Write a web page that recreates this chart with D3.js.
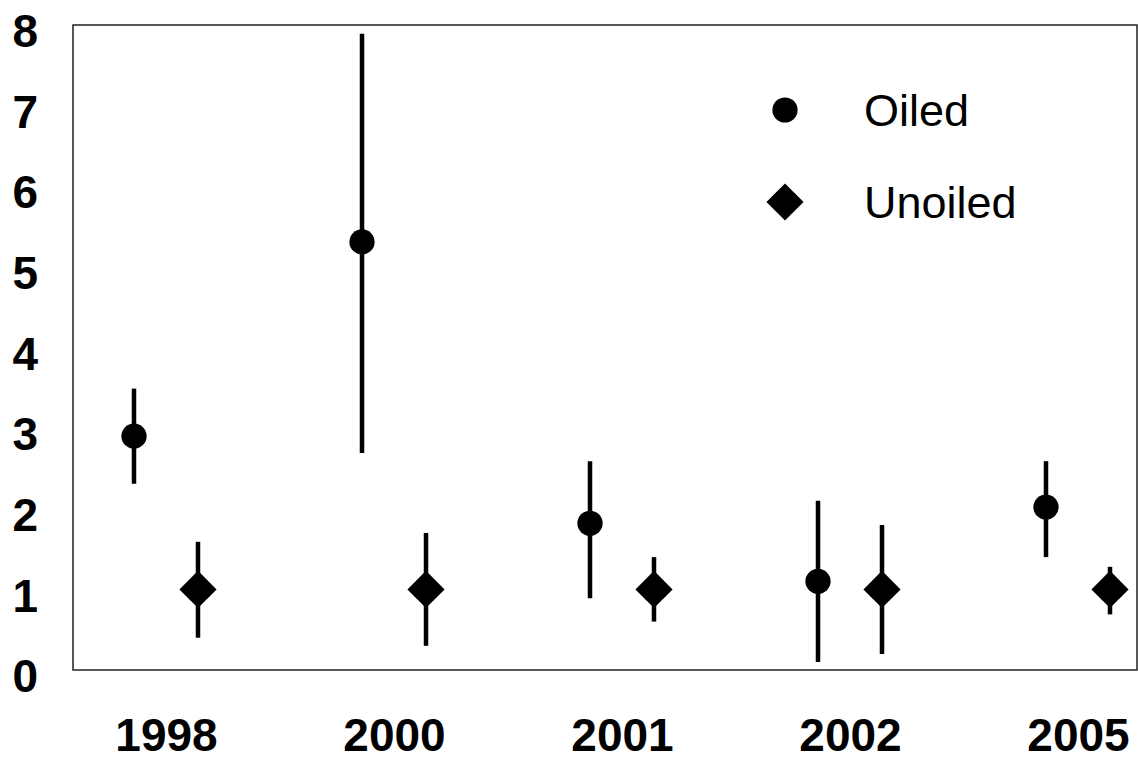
<!DOCTYPE html>
<html>
<head>
<meta charset="utf-8">
<script src="https://d3js.org/d3.v7.min.js"></script>
<style>
  body { margin: 0; background: #fff; }
  text { font-family: Arial, "Liberation Sans", sans-serif; }
</style>
</head>
<body>
<div id="vis"></div>
<script>
// years on the x axis
var years = ["1998", "2000", "2001", "2002", "2005"];

// Oiled sites: mean, lower and upper ends of the bars
var oiledMean = [2.90, 5.31, 1.82, 1.10, 2.02];
var oiledLow  = [2.31, 2.69, 0.89, 0.10, 1.40];
var oiledHigh = [3.49, 7.89, 2.59, 2.10, 2.59];

// Unoiled sites
var unoiledMean = [1.0, 1.0, 1.0, 1.0, 1.0];
var unoiledLow  = [0.40, 0.30, 0.60, 0.20, 0.69];
var unoiledHigh = [1.59, 1.70, 1.40, 1.80, 1.28];

var yTicks = [0, 1, 2, 3, 4, 5, 6, 7, 8];

var margin = {top: 25, right: 1, bottom: 91, left: 73},
    width = 1138 - margin.left - margin.right,
    height = 761 - margin.top - margin.bottom;

var svg = d3.select("#vis").append("svg")
    .attr("width", 1138)
    .attr("height", 761)
    .append("g")
    .attr("transform", "translate(" + margin.left + "," + margin.top + ")");

var x = d3.scalePoint()
    .domain(years)
    .range([93, 1005]);

var y = d3.scaleLinear()
    .domain([0, 8])
    .range([height, 0]);

var dodge = 32;

// plot frame
svg.append("rect")
    .attr("x", 0)
    .attr("y", 0)
    .attr("width", width)
    .attr("height", height)
    .style("fill", "none")
    .style("stroke", "#222")
    .style("stroke-width", 1.5);

var yAxis = d3.axisLeft(y).tickValues(yTicks).tickSize(0).tickPadding(35);
var gy = svg.append("g").call(yAxis);
gy.select(".domain").remove();
gy.selectAll("text")
    .attr("dy", "0.47em")
    .style("font", "bold 46px Arial, 'Liberation Sans', sans-serif")
    .style("fill", "#000");

// year labels sit low, near the bottom edge
var xAxis = d3.axisBottom(x).tickSize(0).tickPadding(48);
var gx = svg.append("g")
    .attr("transform", "translate(0," + height + ")")
    .call(xAxis);
gx.select(".domain").remove();
gx.selectAll("text")
    .style("font", "bold 46px Arial, 'Liberation Sans', sans-serif")
    .style("fill", "#000");

var series = [
    {name: "Oiled", mean: oiledMean, lo: oiledLow, hi: oiledHigh, shift: -dodge,
     symbol: d3.symbol(d3.symbolCircle, 500), rot: 0},
    {name: "Unoiled", mean: unoiledMean, lo: unoiledLow, hi: unoiledHigh, shift: dodge,
     symbol: d3.symbol(d3.symbolSquare, 690), rot: 45}
];

series.forEach(function(s) {
    var pts = years.map(function(yr, i) {
        return {year: yr, mean: s.mean[i], lo: s.lo[i], hi: s.hi[i]};
    });

    var g = svg.append("g").attr("class", "series");

    // error bars
    g.selectAll(".bar")
        .data(pts).enter()
        .append("line")
        .attr("x1", function(d) { return x(d.year) + s.shift; })
        .attr("x2", function(d) { return x(d.year) + s.shift; })
        .attr("y1", function(d) { return y(d.lo); })
        .attr("y2", function(d) { return y(d.hi); })
        .style("stroke", "#000")
        .style("stroke-width", 4.5);

    g.selectAll(".pt")
        .data(pts).enter()
        .append("path")
        .attr("d", s.symbol)
        .attr("transform", function(d) {
            return "translate(" + (x(d.year) + s.shift) + "," + y(d.mean) + ") rotate(" + s.rot + ")";
        })
        .style("fill", "#000");
});

// legend
var legend = svg.selectAll(".legend")
    .data(series).enter()
    .append("g")
    .attr("class", "legend")
    .attr("transform", function(d, i) { return "translate(712," + (85 + 92 * i) + ")"; });

legend.append("path")
    .attr("d", function(d) { return d.symbol(); })
    .attr("transform", function(d) { return "rotate(" + d.rot + ")"; })
    .style("fill", "#000");

legend.append("text")
    .attr("x", 79)
    .attr("y", 16)
    .style("font-size", "45px")
    .style("fill", "#000")
    .text(function(d) { return d.name; });
</script>
</body>
</html>
